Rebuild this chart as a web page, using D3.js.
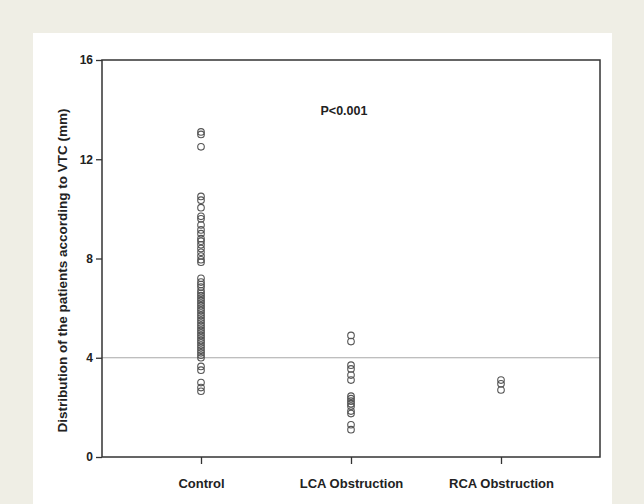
<!DOCTYPE html>
<html>
<head>
<meta charset="utf-8">
<script src="https://cdn.jsdelivr.net/npm/d3@7"></script>
<style>
  html, body { margin: 0; padding: 0; background: #efeee5; }
  svg { display: block; }
  text { font-family: "Liberation Sans", Arial, sans-serif; font-weight: bold; fill: #222; }
</style>
</head>
<body>
<svg id="chart" width="644" height="504"></svg>
<script>
const categories = ["Control", "LCA Obstruction", "RCA Obstruction"];
const controlValues = [13.1, 13.0, 12.5, 10.5, 10.35, 10.05, 9.7, 9.6, 9.35, 9.15, 9.0, 8.8, 8.7, 8.55, 8.4, 8.25,
  8.1, 7.95, 7.85, 7.2, 7.05, 6.95, 6.85, 6.7, 6.6, 6.5, 6.4, 6.3, 6.2, 6.1, 6.0, 5.9, 5.8, 5.7, 5.6, 5.5,
  5.4, 5.3, 5.2, 5.1, 5.0, 4.9, 4.8, 4.7, 4.6, 4.5, 4.4, 4.3, 4.2, 4.1, 4.0, 3.65, 3.5, 3.0, 2.8, 2.65];
const lcaValues = [4.9, 4.65, 3.7, 3.55, 3.3, 3.1, 2.45, 2.35, 2.25, 2.15, 2.05, 1.85, 1.75, 1.3, 1.1];
const rcaValues = [3.1, 2.95, 2.7];
const yTicks = [0, 4, 8, 12, 16];
const cutoff = 4;
const yTitle = "Distribution of the patients according to VTC (mm)";
const annotation = "P<0.001";

const seriesByCategory = [controlValues, lcaValues, rcaValues];
const points = [];
categories.forEach((c, i) => seriesByCategory[i].forEach(v => points.push({cat: c, v})));

const svg = d3.select("#chart");
const frame = {left: 102, right: 600, top: 60, bottom: 457};

svg.append("rect").attr("x", 33).attr("y", 33).attr("width", 579).attr("height", 471).attr("fill", "#ffffff");

const x = d3.scalePoint().domain(categories).range([frame.left, frame.right]).padding(0.66);
const y = d3.scaleLinear().domain([0, 16]).range([frame.bottom, frame.top]);

// reference line
svg.append("line")
  .attr("x1", frame.left).attr("x2", frame.right)
  .attr("y1", y(cutoff)).attr("y2", y(cutoff))
  .attr("stroke", "#a8a8a8").attr("stroke-width", 1);

// points
svg.append("g").selectAll("circle").data(points).join("circle")
  .attr("cx", d => x(d.cat))
  .attr("cy", d => y(d.v))
  .attr("r", 3.3)
  .attr("fill", "none")
  .attr("stroke", "#555")
  .attr("stroke-width", 1.1);

// frame
svg.append("rect")
  .attr("x", frame.left).attr("y", frame.top)
  .attr("width", frame.right - frame.left).attr("height", frame.bottom - frame.top)
  .attr("fill", "none").attr("stroke", "#333").attr("stroke-width", 1.5);

// y axis
const yAxis = svg.append("g").attr("transform", `translate(${frame.left},0)`)
  .call(d3.axisLeft(y).tickValues(yTicks).tickSize(6).tickPadding(3));
yAxis.select(".domain").remove();
yAxis.selectAll(".tick line").attr("stroke", "#333").attr("stroke-width", 1.3);
yAxis.selectAll(".tick text").attr("font-size", 12).attr("font-family", "Liberation Sans, Arial, sans-serif").attr("font-weight", "bold").attr("fill", "#222");

// x axis
const xAxis = svg.append("g").attr("transform", `translate(0,${frame.bottom})`)
  .call(d3.axisBottom(x).tickSize(7).tickPadding(15));
xAxis.select(".domain").remove();
xAxis.selectAll(".tick line").attr("stroke", "#333").attr("stroke-width", 1.3);
xAxis.selectAll(".tick text").attr("font-size", 13).attr("font-family", "Liberation Sans, Arial, sans-serif").attr("font-weight", "bold").attr("fill", "#222");

// y title
svg.append("text")
  .attr("transform", `translate(67,${(frame.top + frame.bottom) / 2 + 12}) rotate(-90)`)
  .attr("text-anchor", "middle")
  .attr("font-size", 13.5)
  .text(yTitle);

// annotation
svg.append("text")
  .attr("x", 344).attr("y", 115)
  .attr("text-anchor", "middle")
  .attr("font-size", 12.5)
  .text(annotation);
</script>
</body>
</html>
